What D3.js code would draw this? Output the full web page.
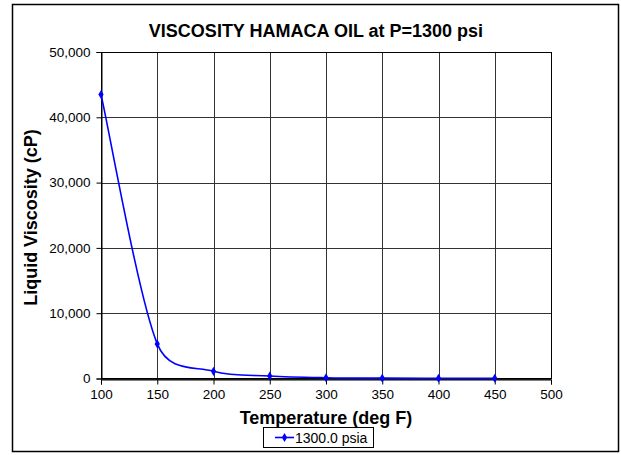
<!DOCTYPE html>
<html><head><meta charset="utf-8">
<script src="https://cdn.jsdelivr.net/npm/d3@7"></script>
<style>body{margin:0;background:#fff;} text{font-family:"Liberation Sans",Arial,sans-serif;}</style>
</head><body>
<svg id="c" width="621" height="455"></svg>
<script>
const temperatures = [100, 150, 200, 250, 300, 350, 400, 450];
const viscosity = [43500, 5300, 1100, 380, 120, 50, 35, 30];
const xTicks = [100, 150, 200, 250, 300, 350, 400, 450, 500];
const yTicks = [0, 10000, 20000, 30000, 40000, 50000];
const seriesName = "1300.0 psia";
const title = "VISCOSITY HAMACA OIL at P=1300 psi";
const xTitle = "Temperature (deg F)";
const yTitle = "Liquid Viscosity (cP)";

// Spreadsheet-style smoothed line (Bezier with capped Catmull-Rom tangents)
function curveSmooth(context){
  let pts = [];
  return {
    areaStart(){}, areaEnd(){},
    lineStart(){ pts = []; },
    point(x, y){ pts.push([+x, +y]); },
    lineEnd(){
      const n = pts.length; if (!n) return;
      context.moveTo(pts[0][0], pts[0][1]);
      const cap = (t, d) => { const l = Math.hypot(t[0], t[1]); const m = 0.5 * d; return l > m ? [t[0]*m/l, t[1]*m/l] : t; };
      for (let i = 0; i < n - 1; i++) {
        const p0 = pts[Math.max(0, i-1)], p1 = pts[i], p2 = pts[i+1], p3 = pts[Math.min(n-1, i+2)];
        const d = Math.hypot(p2[0]-p1[0], p2[1]-p1[1]);
        const t1 = cap([(p2[0]-p0[0])/6, (p2[1]-p0[1])/6], d);
        const t2 = cap([(p3[0]-p1[0])/6, (p3[1]-p1[1])/6], d);
        context.bezierCurveTo(p1[0]+t1[0], p1[1]+t1[1], p2[0]-t2[0], p2[1]-t2[1], p2[0], p2[1]);
      }
    }
  };
}

const svg = d3.select("#c");
svg.append("rect").attr("x",12.5).attr("y",4.5).attr("width",606).attr("height",447)
  .attr("fill","#fff").attr("stroke","#000").attr("stroke-width",1.5);

const L=101, R=551, T=52, B=378.5;
const x = d3.scaleLinear().domain([100,500]).range([L,R]);
const y = d3.scaleLinear().domain([0,50000]).range([B,T]);

const g = svg.append("g");
g.selectAll(".vg").data(xTicks).enter().append("line")
  .attr("x1",d=>Math.round(x(d))+0.5).attr("x2",d=>Math.round(x(d))+0.5)
  .attr("y1",T).attr("y2",B).attr("stroke","#333").attr("stroke-width",1);
g.selectAll(".hg").data(yTicks).enter().append("line")
  .attr("y1",d=>Math.round(y(d))+0.5).attr("y2",d=>Math.round(y(d))+0.5)
  .attr("x1",L).attr("x2",R).attr("stroke","#333").attr("stroke-width",1);
g.append("rect").attr("x",L+0.5).attr("y",T+0.5).attr("width",R-L).attr("height",B-T-0.5)
  .attr("fill","none").attr("stroke","#000").attr("stroke-width",1);

const xAxis = d3.axisBottom(x).tickValues(xTicks).tickSize(5).tickPadding(5).tickFormat(d3.format("d"));
const yAxis = d3.axisLeft(y).tickValues(yTicks).tickSize(5).tickPadding(6).tickFormat(d3.format(","));
const xa = svg.append("g").attr("transform",`translate(0,${Math.round(B)+0.5})`).call(xAxis);
const ya = svg.append("g").attr("transform",`translate(${L+0.5},0)`).call(yAxis);
[xa,ya].forEach(a=>{
  a.select(".domain").attr("stroke","#000");
  a.selectAll(".tick line").attr("stroke","#000");
  a.selectAll("text").attr("font-size",13.5).attr("fill","#000").attr("font-family","Liberation Sans, Arial, sans-serif");
});

const pts = temperatures.map((t,i)=>[t,viscosity[i]]);
const line = d3.line().x(d=>x(d[0])).y(d=>y(d[1])).curve(curveSmooth);
svg.append("path").datum(pts).attr("d",line).attr("fill","none").attr("stroke","#0000ff").attr("stroke-width",1.6);
const sym = d3.symbol().type(d3.symbolDiamond).size(24);
svg.selectAll(".m").data(pts).enter().append("path")
  .attr("d",sym).attr("transform",d=>`translate(${x(d[0])},${y(d[1])})`).attr("fill","#0000ff");

svg.append("text").attr("x",316).attr("y",37).attr("text-anchor","middle")
  .attr("font-size",18).attr("font-weight","bold").text(title);
svg.append("text").attr("x",326).attr("y",424).attr("text-anchor","middle")
  .attr("font-size",18).attr("font-weight","bold").text(xTitle);
svg.append("text").attr("transform","translate(37,217.5) rotate(-90)").attr("text-anchor","middle")
  .attr("font-size",18).attr("font-weight","bold").text(yTitle);

const lg = svg.append("g");
lg.append("rect").attr("x",263.5).attr("y",427.5).attr("width",110).attr("height",20)
  .attr("fill","#fff").attr("stroke","#000").attr("stroke-width",1);
lg.append("line").attr("x1",275).attr("x2",294).attr("y1",437.5).attr("y2",437.5)
  .attr("stroke","#0000ff").attr("stroke-width",1.6);
lg.append("path").attr("d",sym).attr("transform","translate(284.5,437.5)").attr("fill","#0000ff");
lg.append("text").attr("x",295).attr("y",442.5).attr("font-size",14).text(seriesName);
</script>
</body></html>
